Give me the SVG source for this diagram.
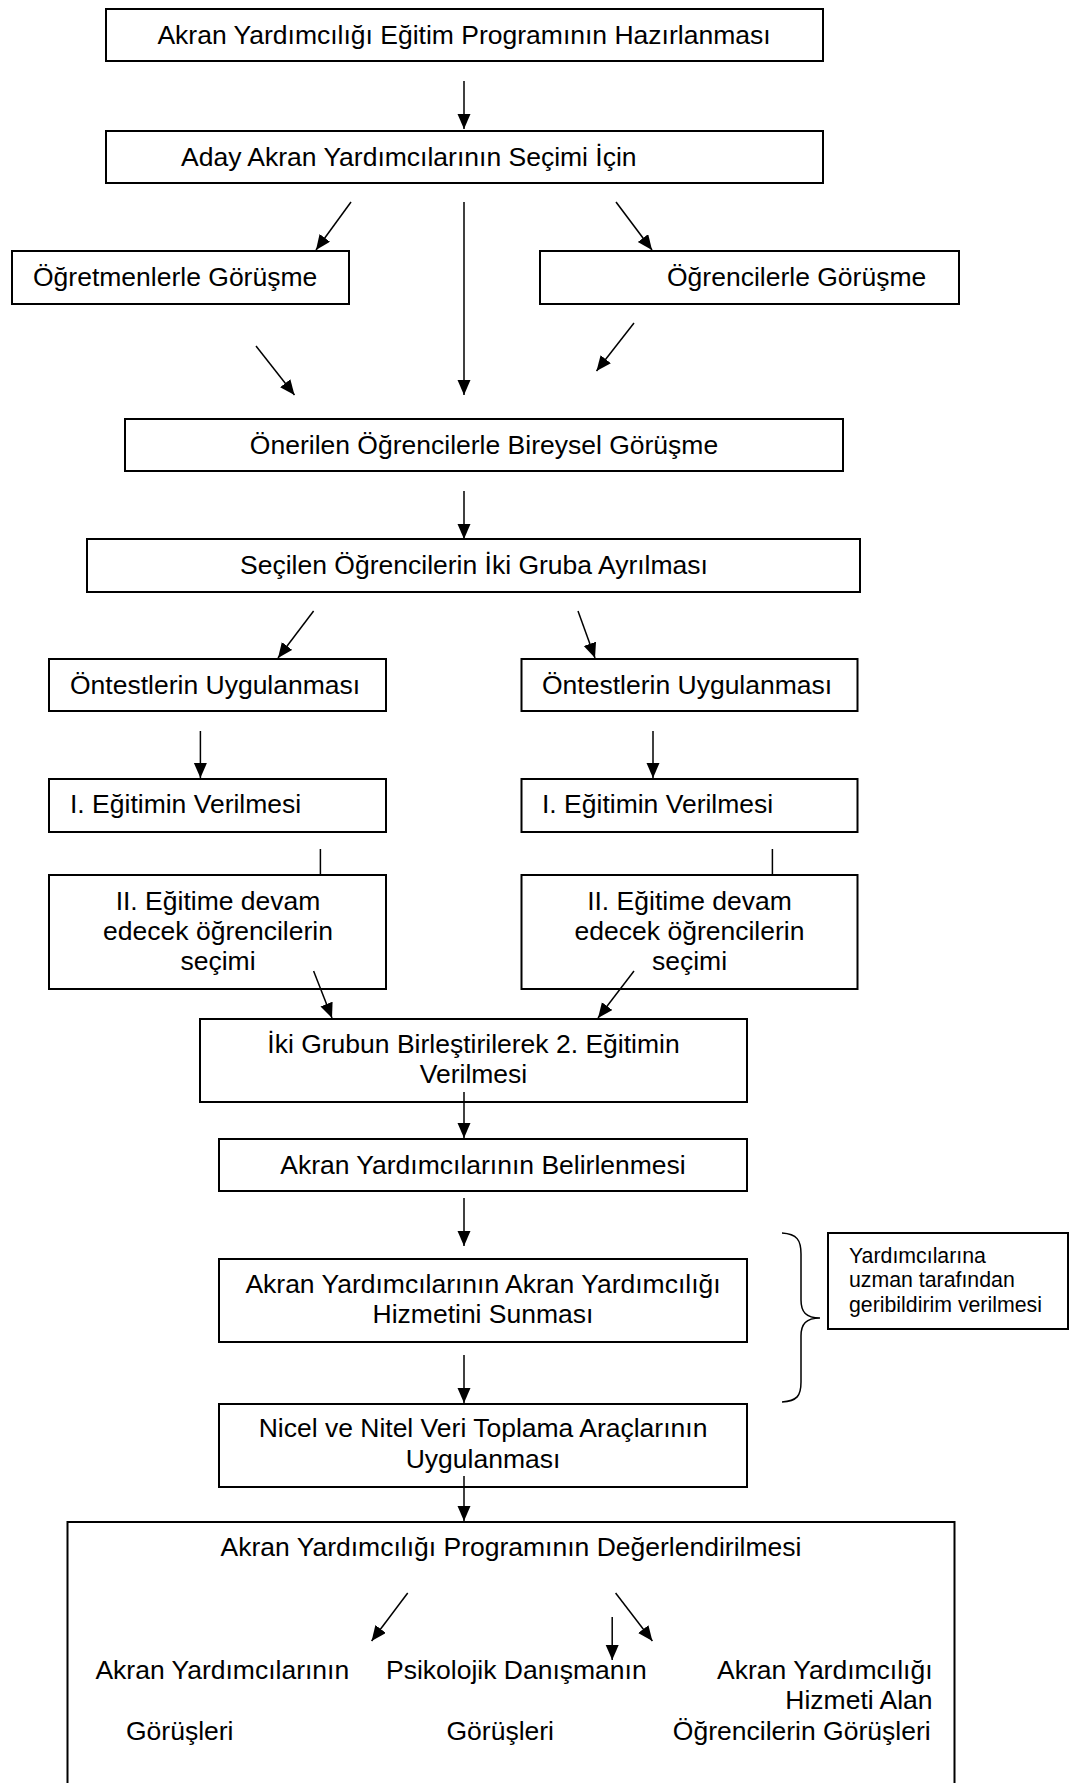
<svg xmlns="http://www.w3.org/2000/svg" width="1069" height="1783" viewBox="0 0 1069 1783">
<style>
.box{fill:#fff;stroke:#000;stroke-width:2}
.t{font-family:"Liberation Sans",Arial,sans-serif;font-size:26.5px;fill:#000}
.s{font-family:"Liberation Sans",Arial,sans-serif;font-size:21.3px;fill:#000}
.c{text-anchor:middle}
.e{text-anchor:end}
.ln{stroke:#000;stroke-width:1.5;fill:none}
</style>
<defs>
<marker id="ah" markerUnits="userSpaceOnUse" markerWidth="16" markerHeight="14" refX="15" refY="6.5" orient="auto">
<path d="M0,0 L15,6.5 L0,13 z" fill="#000"/>
</marker>
</defs>
<rect width="1069" height="1783" fill="#fff"/>
<g id="n1"><rect class="box" x="106" y="9" width="717" height="52"/><text class="t c" x="464" y="44">Akran Yardımcılığı Eğitim Programının Hazırlanması</text></g>
<g id="n2"><rect class="box" x="106" y="131" width="717" height="52"/><text class="t" x="181" y="166">Aday Akran Yardımcılarının Seçimi İçin</text></g>
<g id="n3"><rect class="box" x="12" y="251" width="337" height="53"/><text class="t" x="33" y="286">Öğretmenlerle Görüşme</text></g>
<g id="n4"><rect class="box" x="540" y="251" width="419" height="53"/><text class="t" x="667" y="286">Öğrencilerle Görüşme</text></g>
<g id="n5"><rect class="box" x="125" y="419" width="718" height="52"/><text class="t c" x="484" y="454">Önerilen Öğrencilerle Bireysel Görüşme</text></g>
<g id="n6"><rect class="box" x="87" y="539" width="773" height="53"/><text class="t c" x="474" y="574">Seçilen Öğrencilerin İki Gruba Ayrılması</text></g>
<g id="n7"><rect class="box" x="49" y="659" width="337" height="52"/><text class="t" x="70" y="694">Öntestlerin Uygulanması</text></g>
<g id="n8"><rect class="box" x="521.5" y="659" width="336" height="52"/><text class="t" x="542" y="694">Öntestlerin Uygulanması</text></g>
<g id="n9"><rect class="box" x="49" y="779" width="337" height="53"/><text class="t" x="70" y="813">I. Eğitimin Verilmesi</text></g>
<g id="n10"><rect class="box" x="521.5" y="779" width="336" height="53"/><text class="t" x="542" y="813">I. Eğitimin Verilmesi</text></g>
<g id="n11"><rect class="box" x="49" y="875" width="337" height="114"/><text class="t c" x="218" y="910">II. Eğitime devam</text><text class="t c" x="218" y="940">edecek öğrencilerin</text><text class="t c" x="218" y="970">seçimi</text></g>
<g id="n12"><rect class="box" x="521.5" y="875" width="336" height="114"/><text class="t c" x="689.5" y="910">II. Eğitime devam</text><text class="t c" x="689.5" y="940">edecek öğrencilerin</text><text class="t c" x="689.5" y="970">seçimi</text></g>
<g id="n13"><rect class="box" x="200" y="1019" width="547" height="83"/><text class="t c" x="473.5" y="1053">İki Grubun Birleştirilerek 2. Eğitimin</text><text class="t c" x="473.5" y="1083">Verilmesi</text></g>
<g id="n14"><rect class="box" x="219" y="1139" width="528" height="52"/><text class="t c" x="483" y="1174">Akran Yardımcılarının Belirlenmesi</text></g>
<g id="n15"><rect class="box" x="219" y="1259" width="528" height="83"/><text class="t c" x="483" y="1293">Akran Yardımcılarının Akran Yardımcılığı</text><text class="t c" x="483" y="1323">Hizmetini Sunması</text></g>
<g id="n16"><rect class="box" x="219" y="1404" width="528" height="83"/><text class="t c" x="483" y="1437">Nicel ve Nitel Veri Toplama Araçlarının</text><text class="t c" x="483" y="1468">Uygulanması</text></g>
<g id="n17"><rect class="box" x="828" y="1233" width="240" height="96"/><text class="s" x="849" y="1263">Yardımcılarına</text><text class="s" x="849" y="1287">uzman tarafından</text><text class="s" x="849" y="1312">geribildirim verilmesi</text></g>
<g id="n18"><rect class="box" x="67.5" y="1522" width="887" height="280"/>
<text class="t c" x="511" y="1556">Akran Yardımcılığı Programının Değerlendirilmesi</text>
<text class="t" x="95.4" y="1679">Akran Yardımcılarının</text>
<text class="t" x="386" y="1679">Psikolojik Danışmanın</text>
<text class="t e" x="932.6" y="1679">Akran Yardımcılığı</text>
<text class="t e" x="932.6" y="1709">Hizmeti Alan</text>
<text class="t" x="126" y="1740">Görüşleri</text>
<text class="t" x="446.5" y="1740">Görüşleri</text>
<text class="t e" x="930.6" y="1740">Öğrencilerin Görüşleri</text>
</g>
<g id="connectors">
<line class="ln" x1="464" y1="81" x2="464" y2="129" marker-end="url(#ah)"/>
<line class="ln" x1="351" y1="202" x2="316" y2="250" marker-end="url(#ah)"/>
<line class="ln" x1="464" y1="202" x2="464" y2="395" marker-end="url(#ah)"/>
<line class="ln" x1="616" y1="202" x2="652" y2="250" marker-end="url(#ah)"/>
<line class="ln" x1="256" y1="346" x2="294.5" y2="395" marker-end="url(#ah)"/>
<line class="ln" x1="634" y1="323" x2="596.5" y2="371" marker-end="url(#ah)"/>
<line class="ln" x1="464" y1="491" x2="464" y2="539" marker-end="url(#ah)"/>
<line class="ln" x1="313.6" y1="611" x2="278" y2="658" marker-end="url(#ah)"/>
<line class="ln" x1="578" y1="611" x2="595" y2="658" marker-end="url(#ah)"/>
<line class="ln" x1="200.4" y1="731" x2="200.4" y2="778" marker-end="url(#ah)"/>
<line class="ln" x1="653" y1="731" x2="653" y2="778" marker-end="url(#ah)"/>
<line class="ln" x1="320.4" y1="849" x2="320.4" y2="875"/>
<line class="ln" x1="772.4" y1="849" x2="772.4" y2="875"/>
<line class="ln" x1="313.6" y1="971" x2="332" y2="1018" marker-end="url(#ah)"/>
<line class="ln" x1="634" y1="971" x2="598" y2="1018" marker-end="url(#ah)"/>
<line class="ln" x1="464" y1="1092" x2="464" y2="1138" marker-end="url(#ah)"/>
<line class="ln" x1="464" y1="1198" x2="464" y2="1246" marker-end="url(#ah)"/>
<line class="ln" x1="464" y1="1355" x2="464" y2="1403" marker-end="url(#ah)"/>
<line class="ln" x1="464" y1="1476" x2="464" y2="1521" marker-end="url(#ah)"/>
<line class="ln" x1="407.7" y1="1593" x2="371.6" y2="1641" marker-end="url(#ah)"/>
<line class="ln" x1="615.6" y1="1593" x2="652.4" y2="1641" marker-end="url(#ah)"/>
<line class="ln" x1="612.2" y1="1617" x2="612.2" y2="1660" marker-end="url(#ah)"/>
<path class="ln" d="M782,1233 C797,1234 801,1240 801,1254 L801,1300 C801,1312 806,1318 820,1318 C806,1318 801,1324 801,1336 L801,1382 C801,1396 797,1401 782,1402"/>
</g>
</svg>
